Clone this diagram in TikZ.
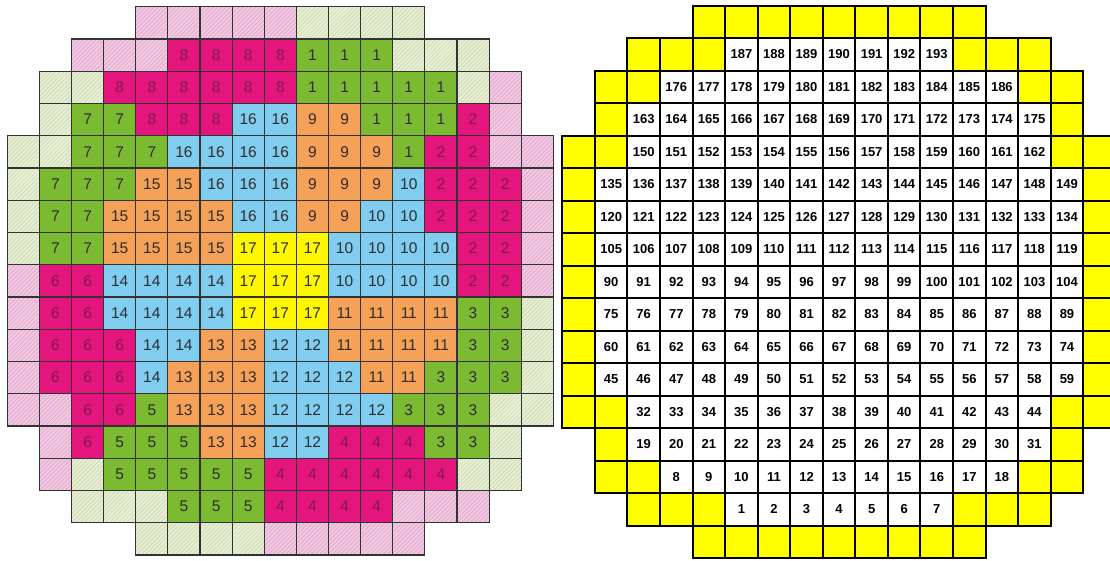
\documentclass[tikz,border=0pt]{standalone}
\usepackage{fontspec}
\setmainfont{Liberation Sans}
\usetikzlibrary{patterns.meta}
\definecolor{cMag}{HTML}{E5157E}
\definecolor{cGrn}{HTML}{7CBA32}
\definecolor{cOrg}{HTML}{F5A157}
\definecolor{cBlu}{HTML}{80CDF0}
\definecolor{cYel}{HTML}{FFF700}
\definecolor{cPk}{HTML}{F3C9E3}
\definecolor{cPkL}{HTML}{D49BC0}
\definecolor{cGl}{HTML}{E8F0D4}
\definecolor{cGlL}{HTML}{C4CEAA}
\definecolor{cTxt}{HTML}{2E2E2E}
\definecolor{cTxtM}{HTML}{7A1A50}
\definecolor{cLine}{HTML}{333333}
\definecolor{rYel}{HTML}{FFFF00}
\tikzset{
  lcell/.style={draw=cLine, line width=1.1pt, minimum width=32.12pt, minimum height=32.25pt,
    inner sep=0pt, outer sep=0pt, font=\fontsize{15.5}{15.5}\selectfont, text=cTxt},
  lcP/.style={preaction={fill=cPk}, pattern={Lines[angle=45,distance=3pt,line width=0.5pt]}, pattern color=cPkL},
  lcG/.style={preaction={fill=cGl}, pattern={Lines[angle=45,distance=3pt,line width=0.5pt]}, pattern color=cGlL},
  lcm/.style={fill=cMag, text=cTxtM},
  lcg/.style={fill=cGrn},
  lco/.style={fill=cOrg},
  lcb/.style={fill=cBlu},
  lcy/.style={fill=cYel},
  rcell/.style={draw=black, line width=2pt, minimum width=32.56pt, minimum height=32.5pt,
    inner sep=0pt, outer sep=0pt, font=\bfseries\fontsize{13}{13}\selectfont, text=black},
  ryel/.style={rcell, fill=rYel}
}
\newcommand\leftrow[3]{%
  \foreach \st/\tx [count=\i from 0] in {#3} {
    \pgfmathtruncatemacro\c{#2+\i}
    \edef\tmp{\noexpand\tikzset{cur/.style={lc\st}}}\tmp
    \node[lcell,cur] (L-#1-\c) at ({7.3+(\c+0.5)*32.12},{6.7+(#1+0.5)*32.25}) {\tx};
  }%
}
\begin{document}
\begin{tikzpicture}[x=1pt,y=-1pt]
\useasboundingbox (0,0) rectangle (1110,560);
\clip (0,0) rectangle (1110,560);
\fill[white] (0,0) rectangle (1110,560);
% ---------------- left grid ----------------
\leftrow{0}{4}{P/\relax,P/\relax,P/\relax,P/\relax,P/\relax,G/\relax,G/\relax,G/\relax,G/\relax}
\leftrow{1}{2}{P/\relax,P/\relax,P/\relax,m/8,m/8,m/8,m/8,g/1,g/1,g/1,G/\relax,G/\relax,G/\relax}
\leftrow{2}{1}{G/\relax,G/\relax,m/8,m/8,m/8,m/8,m/8,m/8,g/1,g/1,g/1,g/1,g/1,G/\relax,P/\relax}
\leftrow{3}{1}{G/\relax,g/7,g/7,m/8,m/8,m/8,b/16,b/16,o/9,o/9,g/1,g/1,g/1,m/2,P/\relax}
\leftrow{4}{0}{G/\relax,G/\relax,g/7,g/7,g/7,b/16,b/16,b/16,b/16,o/9,o/9,o/9,g/1,m/2,m/2,P/\relax,P/\relax}
\leftrow{5}{0}{G/\relax,g/7,g/7,g/7,o/15,o/15,b/16,b/16,b/16,o/9,o/9,o/9,b/10,m/2,m/2,m/2,P/\relax}
\leftrow{6}{0}{G/\relax,g/7,g/7,o/15,o/15,o/15,o/15,b/16,b/16,o/9,o/9,b/10,b/10,m/2,m/2,m/2,P/\relax}
\leftrow{7}{0}{G/\relax,g/7,g/7,o/15,o/15,o/15,o/15,y/17,y/17,y/17,b/10,b/10,b/10,b/10,m/2,m/2,P/\relax}
\leftrow{8}{0}{P/\relax,m/6,m/6,b/14,b/14,b/14,b/14,y/17,y/17,y/17,b/10,b/10,b/10,b/10,m/2,m/2,P/\relax}
\leftrow{9}{0}{P/\relax,m/6,m/6,b/14,b/14,b/14,b/14,y/17,y/17,y/17,o/11,o/11,o/11,o/11,g/3,g/3,G/\relax}
\leftrow{10}{0}{P/\relax,m/6,m/6,m/6,b/14,b/14,o/13,o/13,b/12,b/12,o/11,o/11,o/11,o/11,g/3,g/3,G/\relax}
\leftrow{11}{0}{P/\relax,m/6,m/6,m/6,b/14,o/13,o/13,o/13,b/12,b/12,b/12,o/11,o/11,g/3,g/3,g/3,G/\relax}
\leftrow{12}{0}{P/\relax,P/\relax,m/6,m/6,g/5,o/13,o/13,o/13,b/12,b/12,b/12,b/12,g/3,g/3,g/3,G/\relax,G/\relax}
\leftrow{13}{1}{P/\relax,m/6,g/5,g/5,g/5,o/13,o/13,b/12,b/12,m/4,m/4,m/4,g/3,g/3,G/\relax}
\leftrow{14}{1}{P/\relax,G/\relax,g/5,g/5,g/5,g/5,g/5,m/4,m/4,m/4,m/4,m/4,m/4,G/\relax,G/\relax}
\leftrow{15}{2}{G/\relax,G/\relax,G/\relax,g/5,g/5,g/5,m/4,m/4,m/4,m/4,P/\relax,P/\relax,P/\relax}
\leftrow{16}{4}{G/\relax,G/\relax,G/\relax,G/\relax,P/\relax,P/\relax,P/\relax,P/\relax,P/\relax}
% ---------------- right grid ----------------
\foreach \r in {0,16}{
  \foreach \c in {4,...,12}{
    \node[ryel] (R-\r-\c) at ({562.3+(\c+0.5)*32.56},{5.7+(\r+0.5)*32.5}) {};
  }
}
\foreach \r/\s/\ny/\first/\n in {1/2/3/187/7, 2/1/2/176/11, 3/1/1/163/13, 4/0/2/150/13,
  5/0/1/135/15, 6/0/1/120/15, 7/0/1/105/15, 8/0/1/90/15, 9/0/1/75/15, 10/0/1/60/15,
  11/0/1/45/15, 12/0/2/32/13, 13/1/1/19/13, 14/1/2/8/11, 15/2/3/1/7}{
  \foreach \k in {1,...,\ny}{
    \pgfmathtruncatemacro\ca{\s+\k-1}
    \pgfmathtruncatemacro\cb{\s+\ny+\n+\k-1}
    \node[ryel] (R-\r-\ca) at ({562.3+(\ca+0.5)*32.56},{5.7+(\r+0.5)*32.5}) {};
    \node[ryel] (R-\r-\cb) at ({562.3+(\cb+0.5)*32.56},{5.7+(\r+0.5)*32.5}) {};
  }
  \foreach \k in {1,...,\n}{
    \pgfmathtruncatemacro\c{\s+\ny+\k-1}
    \pgfmathtruncatemacro\num{\first+\k-1}
    \node[rcell] (R-\r-\c) at ({562.3+(\c+0.5)*32.56},{5.7+(\r+0.5)*32.5}) {\num};
  }
}
\end{tikzpicture}
\end{document}
